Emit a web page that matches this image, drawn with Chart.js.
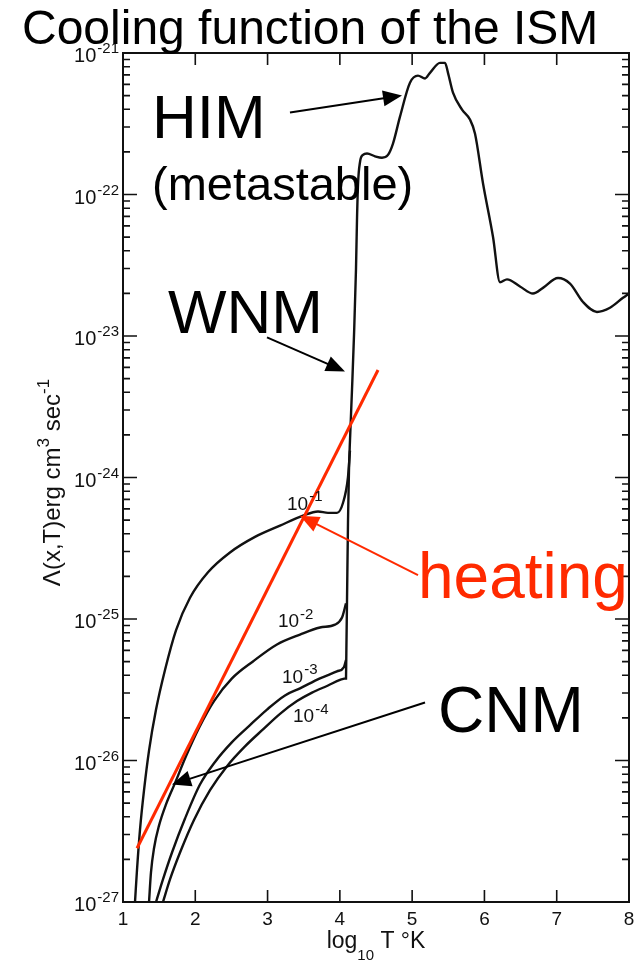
<!DOCTYPE html>
<html>
<head>
<meta charset="utf-8">
<title>Cooling function of the ISM</title>
<script src="https://cdn.jsdelivr.net/npm/chart.js@4.4.1/dist/chart.umd.min.js"></script>
<style>
  html, body { margin: 0; padding: 0; background: #fff; }
  #wrap { width: 634px; height: 966px; position: relative; }
</style>
</head>
<body>
<div id="wrap"><canvas id="coolingChart"></canvas></div>
<script>
// log10 T and log10 Lambda for each ionisation fraction x (low-T branches)
const logT_x1 = [1.166, 1.194, 1.235, 1.291, 1.360, 1.457, 1.581, 1.733, 1.927, 2.176, 2.480, 2.826, 3.172, 3.490, 3.698, 3.836, 3.960, 4.043, 4.112, 4.140];
const logL_x1 = [-27.00, -26.77, -26.49, -26.21, -25.93, -25.64, -25.36, -25.08, -24.85, -24.67, -24.53, -24.42, -24.34, -24.27, -24.24, -24.25, -24.25, -24.18, -24.00, -23.81];

const logT_x2 = [1.360, 1.387, 1.429, 1.498, 1.595, 1.719, 1.871, 2.051, 2.259, 2.508, 2.798, 3.130, 3.449, 3.725, 3.933, 4.030, 4.085];
const logL_x2 = [-27.00, -26.79, -26.62, -26.46, -26.31, -26.16, -25.97, -25.77, -25.58, -25.42, -25.30, -25.18, -25.11, -25.06, -25.04, -24.99, -24.89];

const logT_x3 = [1.457, 1.553, 1.678, 1.858, 2.065, 2.273, 2.508, 2.757, 2.992, 3.241, 3.449, 3.725, 3.960, 4.057, 4.085];
const logL_x3 = [-27.00, -26.84, -26.65, -26.41, -26.17, -26.01, -25.87, -25.75, -25.64, -25.54, -25.49, -25.42, -25.37, -25.34, -25.29];

const logT_x4 = [1.553, 1.650, 1.789, 1.982, 2.204, 2.439, 2.688, 2.937, 3.172, 3.407, 3.615, 3.836, 4.002, 4.071];
const logL_x4 = [-27.00, -26.84, -26.65, -26.42, -26.21, -26.04, -25.90, -25.78, -25.67, -25.58, -25.52, -25.47, -25.43, -25.42];

// shared branch above ~10^4 K, where all curves merge
const logT_hot = [4.085, 4.099, 4.113, 4.126, 4.140, 4.168, 4.196, 4.223, 4.237, 4.251, 4.279, 4.320, 4.376, 4.486, 4.583, 4.666, 4.735, 4.832, 4.970, 5.081, 5.178, 5.247, 5.385, 5.455, 5.496, 5.565, 5.690, 5.800, 5.870, 5.980, 6.119, 6.215, 6.312, 6.492, 6.672, 6.810, 7.018, 7.184, 7.364, 7.557, 7.737, 7.917, 8.000];
const logL_hot = [-25.43, -24.87, -24.30, -23.95, -23.74, -23.38, -22.99, -22.53, -22.18, -21.93, -21.77, -21.72, -21.71, -21.73, -21.74, -21.72, -21.64, -21.45, -21.21, -21.16, -21.18, -21.14, -21.07, -21.07, -21.14, -21.28, -21.40, -21.47, -21.57, -21.92, -22.30, -22.62, -22.60, -22.65, -22.70, -22.66, -22.59, -22.63, -22.76, -22.83, -22.80, -22.73, -22.70];

// heating rate line
const logT_heat = [1.194, 4.528];
const logL_heat = [-26.62, -23.24];

const xTickValues = [1, 2, 3, 4, 5, 6, 7, 8];
const yDecades = [-27, -26, -25, -24, -23, -22, -21];
const fractionExps = ['-1', '-2', '-3', '-4'];

const toPoints = (xs, ys) => xs.map((t, i) => ({ x: t, y: Math.pow(10, ys[i]) }));

const RED = '#ff2a00';
const INK = '#111';
const FONT = '"Liberation Sans", Arial, sans-serif';

// annotation placement, in (log T, log Lambda)
const bigLabels = [
  { text: 'HIM', t: 1.401, l: -21.60, size: 62, color: '#000' },
  { text: '(metastable)', t: 1.401, l: -22.04, size: 47, color: '#000' },
  { text: 'WNM', t: 1.623, l: -22.98, size: 62, color: '#000' },
  { text: 'heating', t: 5.081, l: -24.85, size: 64, color: RED },
  { text: 'CNM', t: 5.358, l: -25.80, size: 64, color: '#000' }
];
const fractionLabelPos = [
  { t: 3.269, l: -24.23 },
  { t: 3.144, l: -25.06 },
  { t: 3.200, l: -25.45 },
  { t: 3.352, l: -25.73 }
];
const arrows = [
  { from: [3.310, -21.42], to: [4.860, -21.30], color: '#000' },
  { from: [2.992, -23.01], to: [4.071, -23.25], color: '#000' },
  { from: [5.178, -25.59], to: [1.678, -26.17], color: '#000' },
  { from: [5.081, -24.69], to: [3.449, -24.27], color: RED }
];

function drawPower(ctx, base, exp, xLeft, baseline, size, supSize) {
  ctx.font = size + 'px ' + FONT;
  ctx.fillText(base, xLeft, baseline);
  const w = ctx.measureText(base).width;
  ctx.font = supSize + 'px ' + FONT;
  ctx.fillText(exp, xLeft + w + 1, baseline - size * 0.45);
  return w + 1 + ctx.measureText(exp).width;
}

function arrow(ctx, x0, y0, x1, y1, color) {
  const ang = Math.atan2(y1 - y0, x1 - x0);
  const len = 19, half = 8;
  ctx.strokeStyle = color;
  ctx.fillStyle = color;
  ctx.lineWidth = 2;
  ctx.beginPath();
  ctx.moveTo(x0, y0);
  ctx.lineTo(x1 - Math.cos(ang) * len * 0.8, y1 - Math.sin(ang) * len * 0.8);
  ctx.stroke();
  ctx.beginPath();
  ctx.moveTo(x1, y1);
  ctx.lineTo(x1 - Math.cos(ang) * len + Math.sin(ang) * half, y1 - Math.sin(ang) * len - Math.cos(ang) * half);
  ctx.lineTo(x1 - Math.cos(ang) * len - Math.sin(ang) * half, y1 - Math.sin(ang) * len + Math.cos(ang) * half);
  ctx.closePath();
  ctx.fill();
}

const decorations = {
  id: 'decorations',
  afterDatasetsDraw(chart) {
    const { ctx, chartArea: a, scales: { x, y } } = chart;
    const px = t => x.getPixelForValue(t);
    const py = l => y.getPixelForValue(Math.pow(10, l));
    ctx.save();

    // frame with inward ticks
    ctx.strokeStyle = INK;
    ctx.lineWidth = 2;
    ctx.strokeRect(a.left, a.top, a.right - a.left, a.bottom - a.top);
    ctx.lineWidth = 1.6;
    ctx.beginPath();
    yDecades.forEach((d, i) => {
      const yy = py(d);
      ctx.moveTo(a.left, yy); ctx.lineTo(a.left + 14, yy);
      ctx.moveTo(a.right, yy); ctx.lineTo(a.right - 14, yy);
      if (i < yDecades.length - 1) {
        for (let k = 2; k <= 9; k++) {
          const ym = y.getPixelForValue(k * Math.pow(10, d));
          ctx.moveTo(a.left, ym); ctx.lineTo(a.left + 7, ym);
          ctx.moveTo(a.right, ym); ctx.lineTo(a.right - 7, ym);
        }
      }
    });
    xTickValues.slice(1, -1).forEach(t => {
      const xx = px(t);
      ctx.moveTo(xx, a.bottom); ctx.lineTo(xx, a.bottom - 12);
      ctx.moveTo(xx, a.top); ctx.lineTo(xx, a.top + 12);
    });
    ctx.stroke();

    // tick labels
    ctx.fillStyle = INK;
    ctx.textBaseline = 'alphabetic';
    ctx.textAlign = 'left';
    yDecades.forEach(d => {
      const yy = py(d);
      ctx.font = '20px ' + FONT;
      const wb = ctx.measureText('10').width;
      ctx.font = '15px ' + FONT;
      const we = ctx.measureText(String(d)).width;
      drawPower(ctx, '10', String(d), a.left - 4 - we - wb - 1, yy + 9, 20, 15);
    });
    ctx.textAlign = 'center';
    ctx.font = '19px ' + FONT;
    xTickValues.forEach(t => ctx.fillText(String(t), px(t), a.bottom + 23));

    // x axis title: log10 T °K
    ctx.textAlign = 'left';
    ctx.font = '23px ' + FONT;
    const w1 = ctx.measureText('log').width;
    ctx.font = '15px ' + FONT;
    const w2 = ctx.measureText('10').width;
    ctx.font = '23px ' + FONT;
    const w3 = ctx.measureText(' T °K').width;
    const cx = (a.left + a.right) / 2 - (w1 + w2 + w3) / 2;
    ctx.fillText('log', cx, a.bottom + 46);
    ctx.font = '15px ' + FONT;
    ctx.fillText('10', cx + w1, a.bottom + 58);
    ctx.font = '23px ' + FONT;
    ctx.fillText(' T °K', cx + w1 + w2, a.bottom + 46);

    // y axis title, rotated
    ctx.save();
    ctx.translate(60, (a.top + a.bottom) / 2 + 5);
    ctx.rotate(-Math.PI / 2);
    const parts = [
      { s: 'Λ(x,T)erg cm', f: 24, dy: 0 },
      { s: '3', f: 17, dy: -11 },
      { s: ' sec', f: 24, dy: 0 },
      { s: '-1', f: 17, dy: -11 }
    ];
    let total = 0;
    parts.forEach(p => { ctx.font = p.f + 'px ' + FONT; p.w = ctx.measureText(p.s).width; total += p.w; });
    let ox = -total / 2;
    parts.forEach(p => {
      ctx.font = p.f + 'px ' + FONT;
      ctx.fillText(p.s, ox, p.dy);
      ox += p.w;
    });
    ctx.restore();

    // ionisation fraction labels on the curves
    fractionLabelPos.forEach((p, i) => {
      drawPower(ctx, '10', fractionExps[i], px(p.t), py(p.l), 19, 15);
    });

    // arrows
    arrows.forEach(ar => arrow(ctx, px(ar.from[0]), py(ar.from[1]), px(ar.to[0]), py(ar.to[1]), ar.color));

    // phase labels
    bigLabels.forEach(b => {
      ctx.fillStyle = b.color;
      ctx.font = b.size + 'px ' + FONT;
      ctx.fillText(b.text, px(b.t), py(b.l));
    });

    // title
    ctx.fillStyle = '#000';
    ctx.font = '48px ' + FONT;
    ctx.fillText('Cooling function of the ISM', 22, 44);

    ctx.restore();
  }
};

const curve = (xs, ys) => ({
  data: toPoints(xs, ys),
  borderColor: INK,
  borderWidth: 2.4,
  pointRadius: 0,
  fill: false,
  cubicInterpolationMode: 'monotone'
});

new Chart(document.getElementById('coolingChart'), {
  type: 'line',
  data: {
    datasets: [
      {
        data: toPoints(logT_heat, logL_heat),
        borderColor: RED,
        borderWidth: 3,
        pointRadius: 0,
        fill: false
      },
      curve(logT_x1, logL_x1),
      curve(logT_x2, logL_x2),
      curve(logT_x3, logL_x3),
      curve(logT_x4, logL_x4),
      curve(logT_hot, logL_hot)
    ]
  },
  options: {
    responsive: true,
    maintainAspectRatio: false,
    animation: false,
    events: [],
    layout: { padding: { left: 123, right: 5, top: 53, bottom: 64 } },
    plugins: { legend: { display: false }, tooltip: { enabled: false } },
    scales: {
      x: { type: 'linear', min: 1, max: 8, display: false },
      y: { type: 'logarithmic', min: 1e-27, max: 1e-21, display: false }
    }
  },
  plugins: [decorations]
});
</script>
</body>
</html>
